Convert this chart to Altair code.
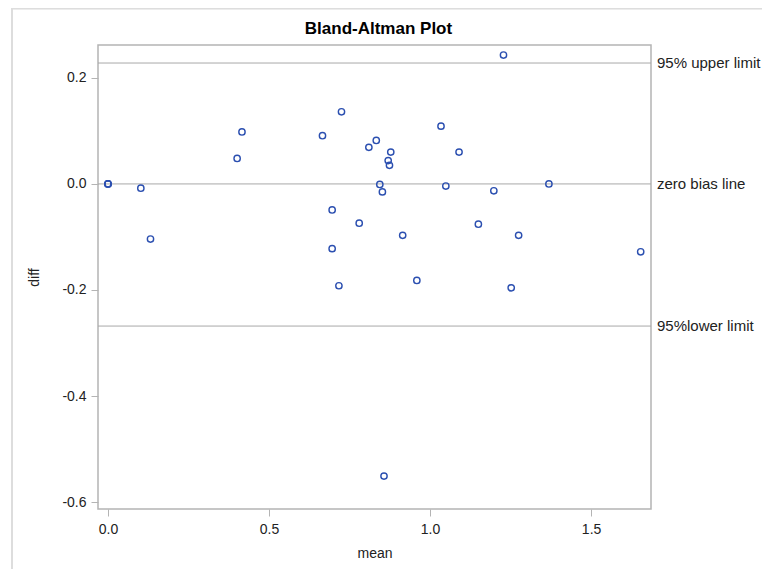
import altair as alt
import pandas as pd

# data
mean_vals = [0.0, 0.0, 0.0, 0.102, 0.132, 0.401, 0.416, 0.666, 0.696, 0.696,
             0.717, 0.725, 0.780, 0.810, 0.833, 0.844, 0.852, 0.857, 0.870,
             0.874, 0.878, 0.915, 0.959, 1.034, 1.049, 1.090, 1.150, 1.198,
             1.228, 1.252, 1.275, 1.369, 1.654]
diff_vals = [0.0, 0.0, 0.0, -0.008, -0.104, 0.048, 0.098, 0.091, -0.049, -0.122,
             -0.192, 0.136, -0.074, 0.069, 0.082, -0.001, -0.015, -0.551, 0.044,
             0.035, 0.060, -0.097, -0.182, 0.109, -0.004, 0.060, -0.076, -0.013,
             0.243, -0.196, -0.097, 0.0, -0.128]

ref_values = [0.228, 0.0, -0.268]
ref_labels = ["95% upper limit", "zero bias line", "95%lower limit"]

title_text = ["Bland-Altman Plot"]

x_ticks = [0.0, 0.5, 1.0, 1.5]
y_ticks = [0.2, 0.0, -0.2, -0.4, -0.6]
x_domain = [-0.031, 1.686]
y_domain = [-0.613, 0.262]

pts = pd.DataFrame({"mean": mean_vals, "diff": diff_vals})
refs = pd.DataFrame({"value": ref_values, "label": ref_labels})
titles = pd.DataFrame({"t": title_text})

W, H = 553, 464
FONT = "Liberation Sans"
GRAY = "#b4b4b4"
LBL = "replace(format(datum.value, '.1f'), '\u2212', '-')"

xs = alt.Scale(domain=x_domain, nice=False, zero=False)
ys = alt.Scale(domain=y_domain, nice=False, zero=False)

points = alt.Chart(pts).mark_point(
    shape="circle", filled=False, color="#2b4fb0", size=40, strokeWidth=1.4, opacity=1
).encode(
    x=alt.X("mean:Q", scale=xs, axis=alt.Axis(values=x_ticks, labelExpr=LBL, title="mean")),
    y=alt.Y("diff:Q", scale=ys, axis=alt.Axis(values=y_ticks, labelExpr=LBL, title="diff")),
)

rules = alt.Chart(refs).mark_rule(color="#a8a8a8", strokeWidth=1).encode(
    y=alt.Y("value:Q", scale=ys),
)

labels = alt.Chart(refs).mark_text(
    align="left", baseline="middle", font=FONT, fontSize=15, color="#222222", clip=False
).encode(
    y=alt.Y("value:Q", scale=ys),
    x=alt.value(W + 6),
    text="label:N",
)

title = alt.Chart(titles).mark_text(
    align="center", baseline="middle", font=FONT, fontSize=17, fontWeight="bold",
    color="#000000", clip=False
).encode(
    x=alt.value(W / 2 + 4),
    y=alt.value(-16),
    text="t:N",
)

left_border = alt.Chart(refs).mark_rule(color="#dddddd", strokeWidth=1.5, clip=False).encode(
    x=alt.value(-86), y=alt.value(-37), y2=alt.value(H + 60)
)
top_border = alt.Chart(refs).mark_rule(color="#dddddd", strokeWidth=1.5, clip=False).encode(
    y=alt.value(-36.5), x=alt.value(-86), x2=alt.value(W + 111)
)

chart = alt.layer(rules, points, labels, title, left_border, top_border).properties(
    width=W,
    height=H,
    autosize=alt.AutoSizeParams(type="none"),
    padding={"left": 90, "top": 37, "right": 111, "bottom": 60},
).configure_view(
    stroke=GRAY, strokeWidth=1.5
).configure_axis(
    grid=False,
    domain=False,
    tickColor=GRAY,
    tickSize=7,
    tickWidth=1,
    labelFont=FONT,
    labelFontSize=14,
    labelColor="#222222",
    titleFont=FONT,
    titleFontSize=14,
    titleFontWeight="normal",
    titleColor="#222222",
).configure_axisY(
    labelPadding=5,
    titlePadding=20,
).configure_axisX(
    labelPadding=6,
    titlePadding=10,
)

chart.save("out.html", embed_options={"renderer": "svg", "actions": False})
